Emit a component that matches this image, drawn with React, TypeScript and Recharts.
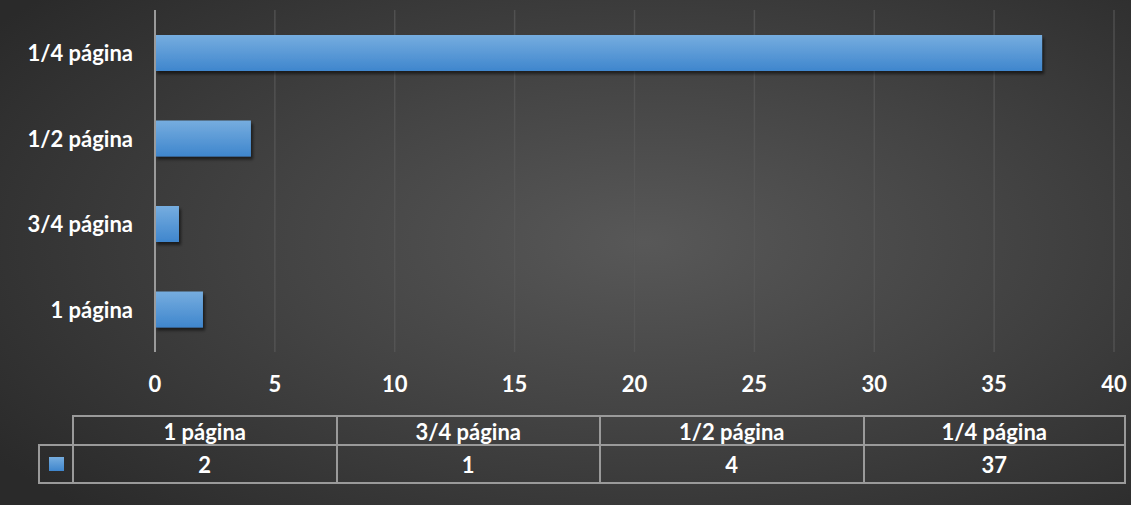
import React from 'react';
import { BarChart, Bar, XAxis, YAxis, CartesianGrid } from 'recharts';

const categories = ['1 página', '3/4 página', '1/2 página', '1/4 página'];
const values = [2, 1, 4, 37];
const xTicks = [0, 5, 10, 15, 20, 25, 30, 35, 40];

const data = categories.map((name, i) => ({ name, value: values[i] }));

const FONT = 'Lato, "Open Sans", sans-serif';
const BORDER = '2px solid #9a9a9a';
const FS = 22;

const XTick = (props: any) => (
  <text x={props.x} y={383} fill="#ffffff" fontFamily={FONT} fontWeight={700} fontSize={FS}
    textAnchor="middle" dominantBaseline="central">{props.payload.value}</text>
);

const YTick = (props: any) => (
  <text x={133} y={props.y} fill="#ffffff" fontFamily={FONT} fontWeight={700} fontSize={FS}
    textAnchor="end" dominantBaseline="central">{props.payload.value}</text>
);

const BarShape = (props: any) => {
  const { x, y, width, height } = props;
  return <rect x={x} y={y} width={width} height={height} fill="url(#barGrad)" filter="url(#barShadow)" />;
};

export default function App() {
  const colW = (1126 - 72) / categories.length;
  return (
    <div style={{
      position: 'absolute', left: 0, top: 0, width: 1131, height: 505, overflow: 'hidden',
      background: 'radial-gradient(ellipse 70% 75% at 57% 48%, #585858 0%, #444 45%, #2a2a2a 100%)',
      fontFamily: FONT,
    }}>
      <BarChart layout="vertical" width={1131} height={505} data={data}
        margin={{ top: 10, right: 17, left: 0, bottom: 113 }} barSize={36}>
        <defs>
          <linearGradient id="barGrad" x1="0" y1="0" x2="0" y2="1">
            <stop offset="0%" stopColor="#76addf" />
            <stop offset="100%" stopColor="#3f86cd" />
          </linearGradient>
          <filter id="barShadow" x="-10%" y="-20%" width="130%" height="160%">
            <feDropShadow dx="2" dy="3" stdDeviation="1.5" floodColor="#000" floodOpacity="0.55" />
          </filter>
        </defs>
        <CartesianGrid horizontal={false} vertical stroke="#5a5a5a" strokeOpacity={0.7} strokeWidth={1.5} />
        <XAxis type="number" domain={[0, 40]} ticks={xTicks} axisLine={false} tickLine={false}
          height={40} tick={XTick} interval={0} />
        <YAxis type="category" dataKey="name" reversed width={155} tickLine={false}
          axisLine={{ stroke: '#9a9a9a', strokeWidth: 2 }} tick={YTick} interval={0} />
        <Bar dataKey="value" isAnimationActive={false} shape={BarShape} />
      </BarChart>
      {/* data table */}
      <div style={{ position: 'absolute', left: 72, top: 415, width: 1126 - 72, height: 30, display: 'flex', boxSizing: 'border-box' }}>
        {categories.map((c, i) => (
          <div key={c} style={{
            width: colW, height: 31, boxSizing: 'border-box',
            borderTop: BORDER, borderLeft: BORDER, borderRight: i === categories.length - 1 ? BORDER : undefined,
            color: '#fff', fontWeight: 700, fontSize: FS, display: 'flex', alignItems: 'center', justifyContent: 'center',
          }}>{c}</div>
        ))}
      </div>
      <div style={{ position: 'absolute', left: 38, top: 444, width: 1126 - 38, height: 40, display: 'flex' }}>
        <div style={{
          width: 34, height: 40, boxSizing: 'border-box', borderTop: BORDER, borderLeft: BORDER, borderBottom: BORDER,
          display: 'flex', alignItems: 'center', justifyContent: 'center',
        }}>
          <div style={{ width: 15, height: 14, background: 'linear-gradient(#76addf, #3f86cd)' }} />
        </div>
        {values.map((v, i) => (
          <div key={i} style={{
            width: colW, height: 40, boxSizing: 'border-box',
            borderTop: BORDER, borderLeft: BORDER, borderBottom: BORDER,
            borderRight: i === values.length - 1 ? BORDER : undefined,
            color: '#fff', fontWeight: 700, fontSize: FS, display: 'flex', alignItems: 'center', justifyContent: 'center',
          }}>{v}</div>
        ))}
      </div>
    </div>
  );
}
